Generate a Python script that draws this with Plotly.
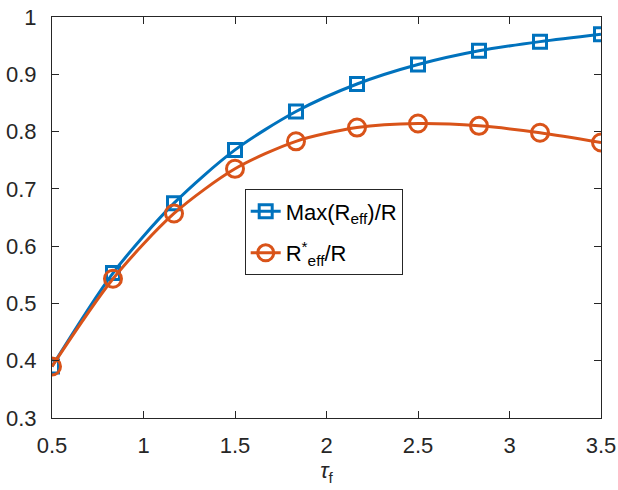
import plotly.graph_objects as go

tau_f = [0.5, 0.8333, 1.1667, 1.5, 1.8333, 2.1667, 2.5, 2.8333, 3.1667, 3.5]
max_reff = [0.390, 0.553, 0.675, 0.768, 0.835, 0.883, 0.917, 0.941, 0.957, 0.970]
reff_star = [0.390, 0.543, 0.657, 0.735, 0.783, 0.807, 0.814, 0.810, 0.798, 0.781]

x_ticks = [0.5, 1, 1.5, 2, 2.5, 3, 3.5]
x_ticklabels = ["0.5", "1", "1.5", "2", "2.5", "3", "3.5"]
y_ticks = [0.3, 0.4, 0.5, 0.6, 0.7, 0.8, 0.9, 1.0]
y_ticklabels = ["0.3", "0.4", "0.5", "0.6", "0.7", "0.8", "0.9", "1"]

blue = "#0072BD"
orange = "#D95319"
axis_col = "#262626"
font_fam = "Liberation Sans, Arial, sans-serif"

fig = go.Figure()
fig.add_trace(go.Scatter(
    x=tau_f, y=max_reff, mode="lines+markers",
    name="Max(R<sub>eff</sub>)/R", legendgroup="a",
    line=dict(color=blue, width=3, shape="spline", smoothing=0.8),
    marker=dict(symbol="square-open", size=13, color=blue, line=dict(width=3, color=blue)),
))
fig.add_trace(go.Scatter(
    x=tau_f, y=reff_star, mode="lines+markers",
    name="R<sup>*</sup><sub>eff</sub>/R", legendgroup="b",
    line=dict(color=orange, width=3, shape="spline", smoothing=0.8),
    marker=dict(symbol="circle-open", size=17, color=orange, line=dict(width=3, color=orange)),
))

axis_common = dict(
    showline=True, linecolor=axis_col, linewidth=1, mirror="ticks",
    ticks="inside", ticklen=7, tickcolor=axis_col, tickwidth=1,
    showgrid=False, zeroline=False, automargin=False,
    tickfont=dict(family=font_fam, size=22, color=axis_col),
)

fig.update_layout(
    width=618, height=490,
    margin=dict(l=52, r=17, t=17, b=72),
    paper_bgcolor="white", plot_bgcolor="white",
    font=dict(family=font_fam, size=22, color=axis_col),
    xaxis=dict(range=[0.5, 3.5], tickvals=x_ticks, ticktext=x_ticklabels,
               ticklabelstandoff=8,
               title=dict(text="<i>τ</i><sub>f</sub>", font=dict(size=22, family=font_fam, color=axis_col), standoff=4),
               **axis_common),
    yaxis=dict(range=[0.3, 1.0], tickvals=y_ticks, ticktext=y_ticklabels,
               ticklabelstandoff=10, **axis_common),
    legend=dict(x=0.351, y=0.57, xanchor="left", yanchor="top",
                bgcolor="white", bordercolor=axis_col, borderwidth=1,
                font=dict(family=font_fam, size=22, color="black"),
                itemwidth=30, tracegroupgap=10, traceorder="grouped"),
    showlegend=True,
)

fig.write_html("out.html")
